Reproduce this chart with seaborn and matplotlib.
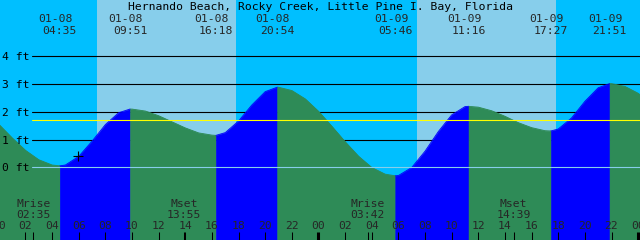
import numpy as np
import pandas as pd
import matplotlib
matplotlib.use("Agg")
import matplotlib.pyplot as plt
import matplotlib.transforms as mtransforms
import seaborn as sns

TITLE = "Hernando Beach, Rocky Creek, Little Pine I. Bay, Florida"

# Tide height (ft) at whole hours, hours counted from 01-08 00:00
hours = list(range(-1, 50))
heights = [2.01, 1.55, 1.06, 0.61, 0.27, 0.08, 0.08, 0.39, 0.94, 1.54, 1.97,
           2.10, 2.03, 1.86, 1.64, 1.42, 1.24, 1.16, 1.25, 1.67, 2.25, 2.73,
           2.89, 2.77, 2.47, 2.02, 1.48, 0.92, 0.40, -0.01, -0.25, -0.30, -0.01,
           0.58, 1.29, 1.89, 2.19, 2.17, 2.04, 1.84, 1.61, 1.43, 1.32, 1.38,
           1.78, 2.38, 2.87, 3.02, 2.92, 2.67, 2.29]

# High / low tide events
event_dates = ["01-08", "01-08", "01-08", "01-08", "01-09", "01-09", "01-09", "01-09"]
event_times = ["04:35", "09:51", "16:18", "20:54", "05:46", "11:16", "17:27", "21:51"]
event_kinds = ["L", "H", "L", "H", "L", "H", "L", "H"]
event_heights = [0.05, 2.10, 1.15, 2.89, -0.31, 2.20, 1.31, 3.02]

# Moon events
moon_labels = ["Mrise", "Mset", "Mrise", "Mset"]
moon_dates = ["01-08", "01-08", "01-09", "01-09"]
moon_times = ["02:35", "13:55", "03:42", "14:39"]

# Daylight (sunrise, sunset)
sun_dates = ["01-08", "01-09"]
sunrise = ["07:22", "07:24"]
sunset = ["17:49", "17:50"]

mean_level = 1.70
ft_ticks = [0, 1, 2, 3, 4]
now_hour, now_ft = 5.95, 0.40

NIGHT = "#00BFFF"
DAY = "#87CEEB"
RISE = "#0000FF"
FALL = "#2E8B57"


def to_hour(date, hm):
    day = 0 if date == "01-08" else 24
    h, m = hm.split(":")
    return day + int(h) + int(m) / 60.0


ev_h = [to_hour(d, t) for d, t in zip(event_dates, event_times)]
moon_h = [to_hour(d, t) for d, t in zip(moon_dates, moon_times)]

sns.set_style("white")
plt.rcParams["font.family"] = ["DejaVu Sans Mono"]
FS = 8.2

fig = plt.figure(figsize=(6.4, 2.4), dpi=100, facecolor=NIGHT)
ax = fig.add_axes([0, 0, 1, 1])
ax.set_facecolor(NIGHT)
XL = (1.2 / 13.32, 641.2 / 13.32)
YL = (-2.63, 6.04)
ax.set_xlim(*XL)
ax.set_ylim(*YL)
for s in ax.spines.values():
    s.set_visible(False)
ax.set_xticks([])
ax.set_yticks([])

# daylight bands
for d, r, s in zip(sun_dates, sunrise, sunset):
    ax.axvspan(to_hour(d, r), to_hour(d, s), color=DAY, lw=0, zorder=0)

# black level lines (behind water)
for f in ft_ticks[1:]:
    ax.axhline(f, xmin=32 / 640, xmax=1, color="black", lw=0.8, zorder=1)

# build segments between extrema
hdf = pd.DataFrame({"hour": hours, "ft": heights})
edf = pd.DataFrame({"hour": ev_h, "ft": event_heights})
bounds = [hdf.hour.min()] + ev_h + [hdf.hour.max()]
pieces = []
for k in range(len(bounds) - 1):
    a, b = bounds[k], bounds[k + 1]
    inner = hdf[(hdf.hour > a) & (hdf.hour < b)]
    ends = pd.concat([hdf[hdf.hour.isin([a, b])], edf[edf.hour.isin([a, b])]])
    seg = pd.concat([inner, ends]).drop_duplicates("hour").sort_values("hour")
    if k < len(event_kinds):
        phase = "rise" if event_kinds[k] == "H" else "fall"
    else:
        phase = "fall" if event_kinds[-1] == "H" else "rise"
    seg = seg.assign(seg=k, phase=phase)
    pieces.append(seg)
    col = RISE if phase == "rise" else FALL
    ax.fill_between(seg.hour, seg.ft, YL[0] - 1, color=col, lw=0.4,
                    edgecolor=col, zorder=2)
curve = pd.concat(pieces, ignore_index=True)
sns.lineplot(data=curve, x="hour", y="ft", hue="phase", units="seg",
             estimator=None, palette={"rise": RISE, "fall": FALL},
             lw=0.6, legend=False, ax=ax, zorder=3, sort=True)
ax.set_xlim(*XL)
ax.set_ylim(*YL)
ax.set_xlabel("")
ax.set_ylabel("")

# zero line and mean level on top
ax.axhline(0, xmin=32 / 640, xmax=1, color=DAY, lw=0.8, zorder=4)
ax.axhline(mean_level, xmin=32 / 640, xmax=1, color="#FFFF00", lw=0.8, zorder=4)

# current-time marker
ax.plot([now_hour], [now_ft], marker="+", ms=6.5, mew=0.8, color="black", zorder=5)

tr_xd = mtransforms.blended_transform_factory(ax.transData, ax.transAxes)
tr_ax = ax.transAxes
PX = lambda y: 1 - y / 240.0

# y labels
for f in ft_ticks:
    ax.text(1.5 / 640, f, f"{f} ft", transform=mtransforms.blended_transform_factory(ax.transAxes, ax.transData),
            ha="left", va="center_baseline", fontsize=FS, color="black", zorder=6)

# title
ax.text(0.5, PX(10), TITLE, transform=tr_ax, ha="center", va="baseline",
        fontsize=FS, color="black", zorder=6)

# tide event labels
for h, d, t in zip(ev_h, event_dates, event_times):
    ax.text(h - 4.3 / 13.32, PX(21.8), d, transform=tr_xd, ha="center",
            va="baseline", fontsize=FS, zorder=6)
    ax.text(h, PX(34), t, transform=tr_xd, ha="center", va="baseline",
            fontsize=FS, zorder=6)

# moon labels
for h, lab, t in zip(moon_h, moon_labels, moon_times):
    ax.text(h, PX(206.7), lab, transform=tr_xd, ha="center", va="baseline",
            fontsize=FS, zorder=6)
    ax.text(h, PX(218.3), t, transform=tr_xd, ha="center", va="baseline",
            fontsize=FS, zorder=6)

# hour labels and ticks
tick_hours = list(range(0, 49, 2))
for h in tick_hours:
    ax.text(h, PX(229.3), f"{h % 24:02d}", transform=tr_xd, ha="center",
            va="baseline", fontsize=FS, zorder=6)
    lw = 2.2 if h % 24 == 0 else 0.75
    ax.vlines(h, 0, PX(231.7), transform=tr_xd, color="black", lw=lw, zorder=6)
for h in moon_h:
    ax.vlines(h, 0, PX(231.7), transform=tr_xd, color="black", lw=0.75, zorder=6)

fig.savefig("out.png", dpi=100, facecolor=NIGHT)
